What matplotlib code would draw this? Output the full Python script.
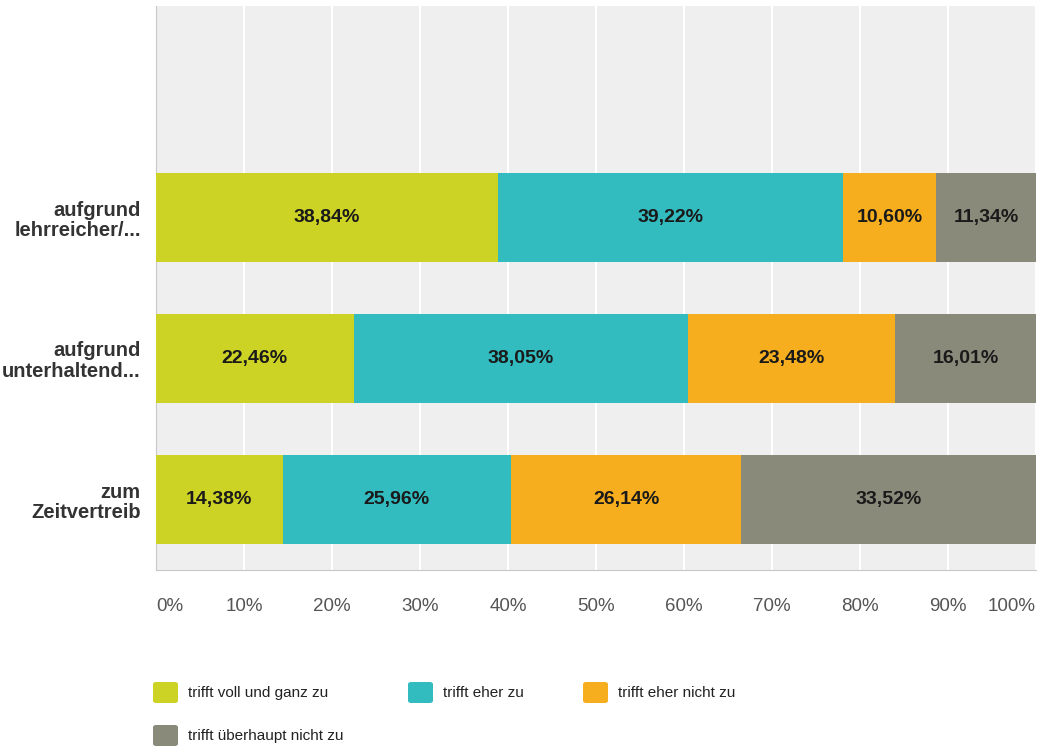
import matplotlib.pyplot as plt
from matplotlib.patches import FancyBboxPatch

plt.rcParams['font.family'] = ['Liberation Sans', 'DejaVu Sans']

# Categories from bottom to top; an empty slot sits above the top bar
categories = ['zum\nZeitvertreib', 'aufgrund\nunterhaltend...', 'aufgrund\nlehrreicher/...']
series_names = ['trifft voll und ganz zu', 'trifft eher zu',
                'trifft eher nicht zu', 'trifft überhaupt nicht zu']
voll = [14.38, 22.46, 38.84]
eher = [25.96, 38.05, 39.22]
eher_nicht = [26.14, 23.48, 10.60]
gar_nicht = [33.52, 16.01, 11.34]
x_ticks = [0, 10, 20, 30, 40, 50, 60, 70, 80, 90, 100]

colors = ['#cdd325', '#33bcbf', '#f6ae1e', '#8a8a7b']
series = [voll, eher, eher_nicht, gar_nicht]

fig = plt.figure(figsize=(10.4, 7.46), dpi=100)
ax = fig.add_axes([156 / 1040, 1 - 570 / 746, 880 / 1040, 564 / 746])
ax.set_facecolor('#efefef')

y = list(range(len(categories)))
left = [0] * len(categories)
for vals, col in zip(series, colors):
    bars = ax.barh(y, vals, left=left, height=0.63, color=col, linewidth=0, zorder=3)
    for b, v in zip(bars, vals):
        ax.text(b.get_x() + b.get_width() / 2, b.get_y() + b.get_height() / 2,
                f'{v:.2f}%'.replace('.', ','), ha='center', va='center',
                fontsize=14, fontweight='bold', color='#1a1a1a', zorder=4)
    left = [l + v for l, v in zip(left, vals)]

ax.set_xlim(0, 100)
ax.set_ylim(-0.5, 3.5)
ax.set_xticks(x_ticks)
ax.set_xticklabels([f'{t}%' for t in x_ticks], fontsize=13.5, color='#555555')
# first and last labels stay inside the plot width
xlabels = ax.get_xticklabels()
xlabels[0].set_horizontalalignment('left')
xlabels[-1].set_horizontalalignment('right')
ax.set_yticks(y)
ax.set_yticklabels(categories, fontsize=14.5, fontweight='bold', color='#333333',
                   linespacing=1.1)
ax.tick_params(axis='x', length=0, pad=20)
ax.tick_params(axis='y', length=0, pad=11)
ax.xaxis.grid(True, color='white', linewidth=1.5, zorder=1)
ax.set_axisbelow(True)
for side in ['top', 'right']:
    ax.spines[side].set_visible(False)
ax.spines['left'].set_color('#c8c8c8')
ax.spines['bottom'].set_color('#c8c8c8')

# Legend: colored squares with labels, two rows
legend_pos = [(153, 693), (408, 693), (583, 693), (153, 736)]
for name, col, (px, py) in zip(series_names, colors, legend_pos):
    sq = FancyBboxPatch((px / 1040, 1 - (py + 10) / 746), 25 / 1040, 21 / 746,
                        boxstyle='round,pad=0,rounding_size=0.003',
                        transform=fig.transFigure, facecolor=col, edgecolor='none')
    fig.patches.append(sq)
    fig.text((px + 35) / 1040, 1 - py / 746, name, fontsize=11, color='#222222',
             ha='left', va='center')

fig.savefig('out.png', dpi=100, facecolor='white')
